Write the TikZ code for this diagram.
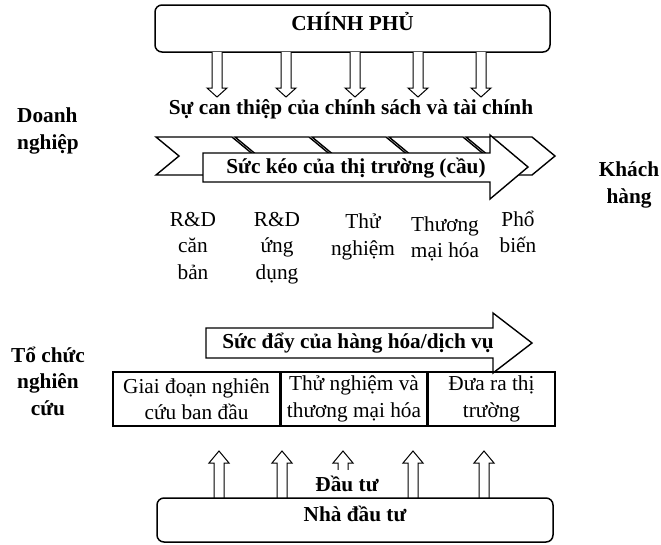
\documentclass[tikz,border=0pt]{standalone}
\usepackage{fontspec}
\setmainfont{Liberation Serif}
\usetikzlibrary{positioning}

\begin{document}
\begin{tikzpicture}[
    x=1pt, y=-1pt,
    every node/.style={font=\fontsize{21.3}{26.5}\selectfont, inner sep=0pt},
    bold/.style={font=\fontsize{21.3}{26.5}\selectfont\bfseries},
    actor/.style={draw, line width=1.5pt, rounded corners=7pt, fill=white},
    stage/.style={align=center},
    side/.style={bold, align=center},
    hollow/.style={draw, fill=white, line width=1pt, line join=miter},
    bigarrow/.style={draw, fill=white, line width=1.4pt, line join=miter},
    cell/.style={draw, line width=1.5pt, minimum height=54pt, align=center}
]
    \useasboundingbox (0,0) rectangle (661,544);
    % top: government
    \node[actor, minimum width=395pt, minimum height=47pt] (gov) at (352.5,28.5) {};
    \node[bold, below=8pt of gov.north] (govtext) {CHÍNH PHỦ};
    \foreach \x in {217,286,355,418,481}
        \draw[hollow] (\x-5,52) -- (\x-5,88) -- (\x-10,88) -- (\x,97) -- (\x+10,88) -- (\x+5,88) -- (\x+5,52);
    \node[bold] (policy) at (351,109) {Sự can thiệp của chính sách và tài chính};

    % chevrons and market pull
    \foreach \a/\b in {156/232, 235/309, 312/386, 389/463, 466/532}
        \draw[bigarrow] (\a,137) -- (\b,137) -- (\b+23,156) -- (\b,175) -- (\a,175) -- (\a+23,156) -- cycle;
    \draw[bigarrow] (203,153) -- (490,153) -- (490,135) -- (528,167) -- (490,199) -- (490,182) -- (203,182) -- cycle;
    \node[bold] (pull) at (356,168) {Sức kéo của thị trường (cầu)};

    \node[side, align=left] (firm) at (48,131) {Doanh\\nghiệp};
    \node[side] (cust) at (629,185) {Khách\\hàng};

    % stages
    \node[stage] (s1) at (193,246) {R\&D\\căn\\bản};
    \node[stage] (s2) at (277,248) {R\&D\\ứng\\dụng};
    \node[stage] (s3) at (363,237) {Thử\\nghiệm};
    \node[stage] (s4) at (445,239) {Thương\\mại hóa};
    \node[stage] (s5) at (518,232) {Phổ\\biến};

    % product push
    \draw[bigarrow] (206,328) -- (493,328) -- (493,313) -- (532,343) -- (493,373) -- (493,358) -- (206,358) -- cycle;
    \node[bold] (push) at (358,343) {Sức đẩy của hàng hóa/dịch vụ};

    \node[side] (lab) at (48,381) {Tổ chức\\nghiên\\cứu};
    \node[cell, minimum width=167pt] (c1) at (196.5,399) {Giai đoạn nghiên\\cứu ban đầu};
    \node[cell, minimum width=145pt, right=0pt of c1] (c2) {Thử nghiệm và\\thương mại hóa};
    \node[cell, minimum width=127pt, right=0pt of c2] (c3) {Đưa ra thị\\trường};

    % bottom: investors
    \foreach \x in {219,282,343,413,484}
        \draw[hollow] (\x-5,498) -- (\x-5,463) -- (\x-10,463) -- (\x,451) -- (\x+10,463) -- (\x+5,463) -- (\x+5,498);
    \node[bold, fill=white, inner xsep=4pt, minimum height=28pt] (invest) at (347,484) {Đầu tư};
    \node[actor, minimum width=396pt, minimum height=44pt] (inv) at (355,520) {};
    \node[bold, below=9pt of inv.north] (invtext) {Nhà đầu tư};
\end{tikzpicture}
\end{document}
